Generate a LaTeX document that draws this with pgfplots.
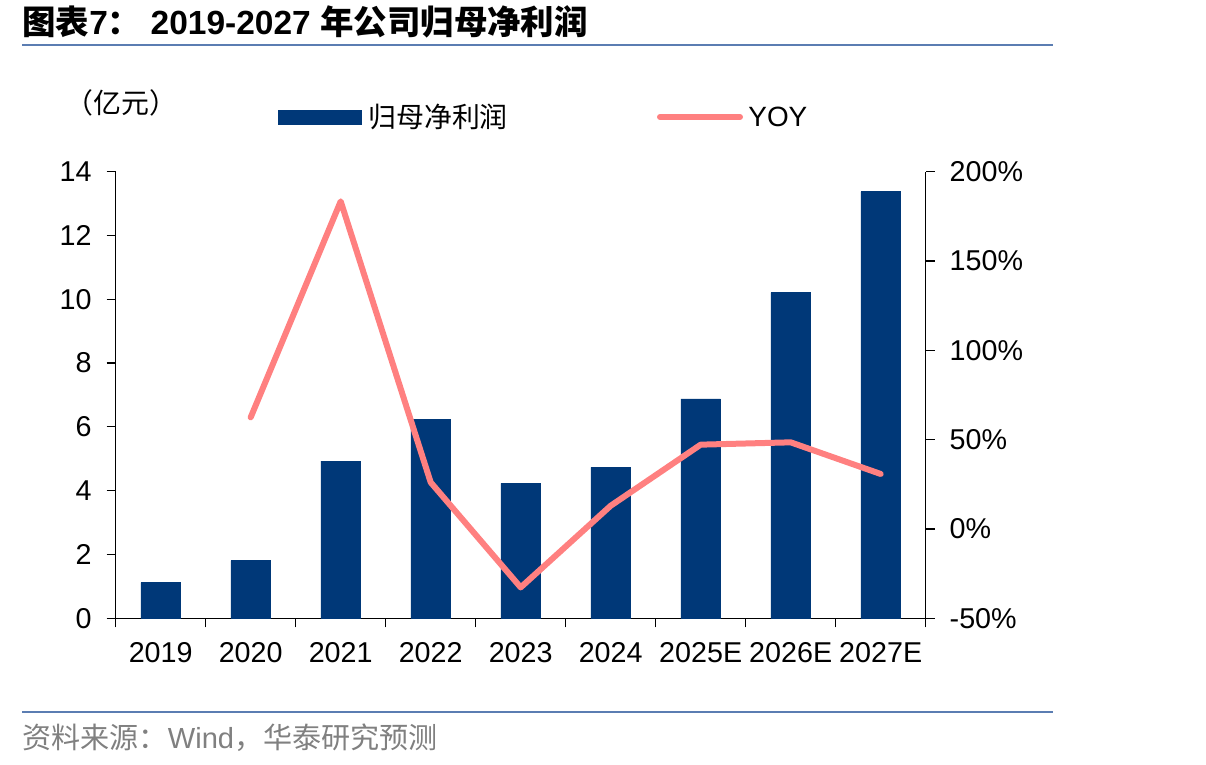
\documentclass[border=0pt]{standalone}
\usepackage{pgfplots}
\pgfplotsset{compat=1.18}
\usepackage{fontspec}
\setmainfont{Liberation Sans}
\newfontfamily\cjk{Noto Sans CJK SC}
\definecolor{barblue}{RGB}{0,56,120}
\definecolor{yoy}{RGB}{255,128,128}
\definecolor{rulec}{RGB}{91,125,178}
\definecolor{srcgray}{RGB}{128,128,128}
\pgfplotstableread{
x profit
0 1.12
1 1.81
2 4.93
3 6.23
4 4.23
5 4.73
6 6.88
7 10.21
8 13.37
}\profit
\pgfplotstableread{
x yoy
1 62.5
2 183.4
3 26.1
4 -32.7
5 13.0
6 47.2
7 48.5
8 30.8
}\yoy
\begin{document}
\begin{tikzpicture}
\path[use as bounding box] (0,0) rectangle (603bp,382.5bp);
\draw[rulec, line width=1.2bp] (11bp,360bp) -- (526.5bp,360bp);
\draw[rulec, line width=1.2bp] (11bp,26.5bp) -- (526.5bp,26.5bp);
\node[anchor=west, inner sep=0pt] at (11bp,371.5bp) {\fontsize{16.8}{20}\selectfont\bfseries {\cjk 图表}7{\cjk ：} 2019-2027 {\cjk 年公司归母净利润}};
\node[anchor=west, inner sep=0pt, text=srcgray] at (11bp,13.5bp) {\fontsize{14.6}{17}\selectfont {\cjk 资料来源：}Wind{\cjk ，华泰研究预测}};
\node[anchor=west, inner sep=0pt] at (32.5bp,331bp) {\fontsize{14}{16}\selectfont\cjk （亿元）};
\fill[barblue] (139bp,320bp) rectangle (181bp,327.5bp);
\node[anchor=west, inner sep=0pt] at (184bp,324bp) {\fontsize{14}{16}\selectfont\cjk 归母净利润};
\draw[yoy, line width=3bp, line cap=round] (330bp,324bp) -- (370bp,324bp);
\node[anchor=west, inner sep=0pt] at (374bp,324bp) {\fontsize{14}{16}\selectfont YOY};
\begin{axis}[
  at={(57.85bp,73.35bp)}, anchor=south west, scale only axis,
  width=405bp, height=223.3bp,
  xmin=-0.5, xmax=8.5, ymin=0, ymax=14,
  axis y line*=left, axis x line*=bottom,
  axis line style={black, line width=0.6bp},
  xtick={-0.5,0.5,1.5,2.5,3.5,4.5,5.5,6.5,7.5,8.5},
  x tick label as interval=true,
  xticklabels={2019,2020,2021,2022,2023,2024,2025E,2026E,2027E},
  ytick={0,2,4,6,8,10,12,14},
  tick align=outside, major tick length=4.5bp,
  tick style={black, line width=0.6bp},
  /pgf/number format/assume math mode=true,
  tick label style={font=\fontsize{14.4}{17}\selectfont},
  yticklabel style={xshift=-4bp},
  xticklabel style={yshift=-4bp},
]
\addplot[ybar, bar width=0.44, fill=barblue, draw=barblue, line width=0.3bp] table[x=x, y=profit] {\profit};
\end{axis}
\begin{axis}[
  at={(57.85bp,73.35bp)}, anchor=south west, scale only axis,
  width=405bp, height=223.3bp,
  xmin=-0.5, xmax=8.5, ymin=-50, ymax=200,
  axis x line=none, axis y line*=right,
  axis line style={black, line width=0.6bp},
  ytick={-50,0,50,100,150,200},
  yticklabel={\pgfmathprintnumber{\tick}\%},
  tick align=outside, major tick length=4.5bp,
  tick style={black, line width=0.6bp},
  /pgf/number format/assume math mode=true,
  tick label style={font=\fontsize{14.4}{17}\selectfont},
  yticklabel style={xshift=4bp},
]
\addplot[yoy, line width=3bp, line join=round, line cap=round, mark=none] table[x=x, y=yoy] {\yoy};
\end{axis}
\end{tikzpicture}
\end{document}
